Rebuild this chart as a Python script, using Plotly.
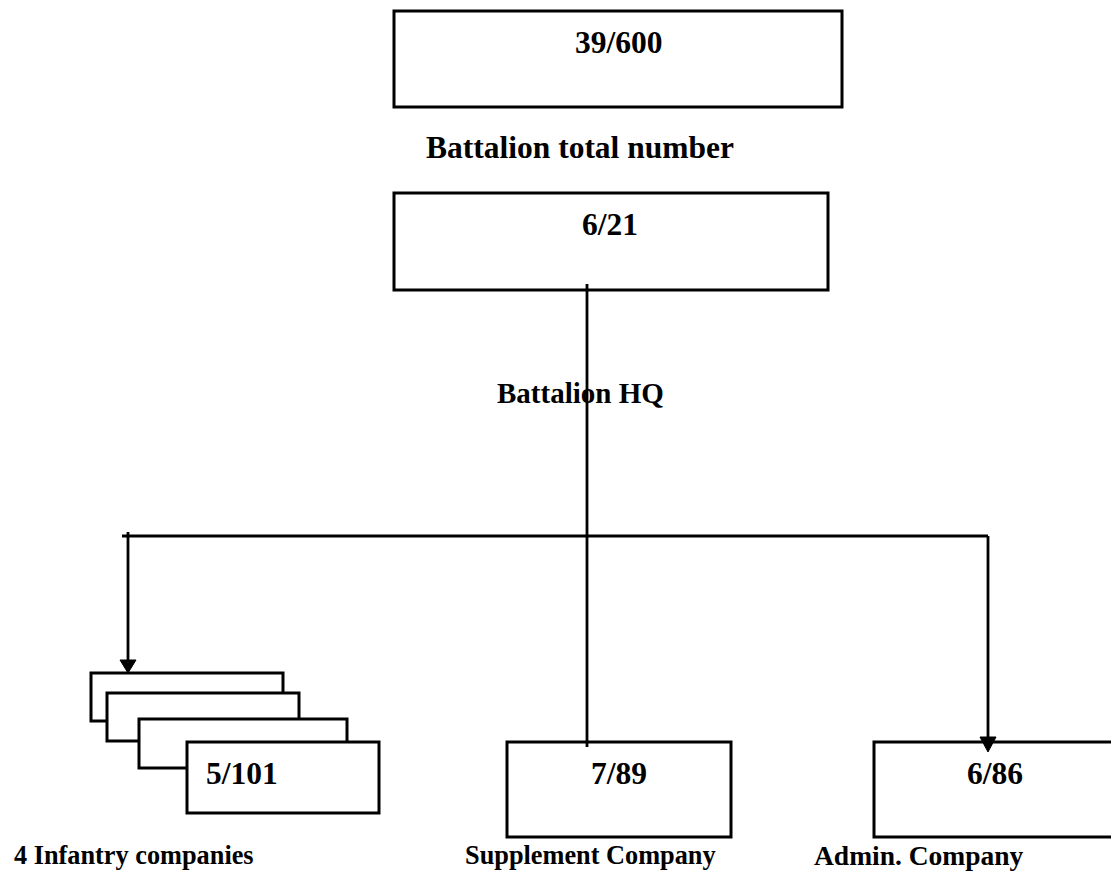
import plotly.graph_objects as go

# ---- content ----
box_labels = ["39/600", "6/21", "5/101", "7/89", "6/86"]
captions = ["Battalion total number", "Battalion HQ",
            "4 Infantry companies", "Supplement Company", "Admin. Company"]

# ---- layout geometry (pixels, y downwards) ----
W, H = 1111, 873
boxes = [  # x0, y0, x1, y1
    (394, 11, 842, 107),
    (394, 193, 828, 290),
    (187, 742, 379, 813),
    (507, 742, 731, 837),
    (874, 742, 1160, 837),   # runs off the right edge
]
box_text_pos = [(619, 42), (610, 224), (242, 773), (619, 773), (995, 773)]
stack_boxes = [(91, 673, 283, 721), (107, 693, 299, 741), (139, 719, 347, 768)]
caption_pos = [(580, 147, 31.5, "center"), (580, 393, 29, "center"),
               (12, 855, 26.3, "left"), (463, 855, 26.3, "left"), (812, 855, 27.5, "left")]

trunk_x, trunk_top, trunk_bot = 587, 284, 747
bus_y, bus_x0, bus_x1 = 536, 122, 988
left_arrow = (128, 532, 673)
right_arrow = (988, 536, 752)

FONT = "Liberation Serif, Times New Roman, serif"
LW_BOX = 3
LW_LINE = 2.8

fig = go.Figure()
shapes = []
for (x0, y0, x1, y1) in stack_boxes + [boxes[2]]:
    shapes.append(dict(type="rect", x0=x0, y0=y0, x1=x1, y1=y1, xref="x", yref="y",
                       line=dict(color="black", width=LW_BOX), fillcolor="white"))
for i in (0, 1, 3):
    x0, y0, x1, y1 = boxes[i]
    shapes.append(dict(type="rect", x0=x0, y0=y0, x1=x1, y1=y1, xref="x", yref="y",
                       line=dict(color="black", width=LW_BOX), fillcolor="rgba(0,0,0,0)"))
# open box at the right edge (its right side lies outside the picture)
x0, y0, x1, y1 = boxes[4]
shapes.append(dict(type="path", xref="x", yref="y",
                   path=f"M {x1},{y0} L {x0},{y0} L {x0},{y1} L {x1},{y1}",
                   line=dict(color="black", width=LW_BOX)))

def vline(x, y0, y1):
    return dict(type="line", x0=x, x1=x, y0=y0, y1=y1, xref="x", yref="y",
                line=dict(color="black", width=LW_LINE))

shapes.append(vline(trunk_x, trunk_top, trunk_bot))
shapes.append(dict(type="line", x0=bus_x0, x1=bus_x1, y0=bus_y, y1=bus_y, xref="x", yref="y",
                   line=dict(color="black", width=LW_LINE)))

def arrow(x, y0, tip, hw=8, hh=13):
    return [vline(x, y0, tip - hh + 1),
            dict(type="path", xref="x", yref="y",
                 path=f"M {x-hw},{tip-hh} L {x+hw},{tip-hh} L {x},{tip} Z",
                 fillcolor="black", line=dict(color="black", width=1))]

shapes += arrow(*left_arrow)
shapes += arrow(*right_arrow, hw=8, hh=15)

annotations = []
for lab, (x, y) in zip(box_labels, box_text_pos):
    annotations.append(dict(x=x, y=y, xref="x", yref="y", text=f"<b>{lab}</b>",
                            showarrow=False, xanchor="center", yanchor="middle",
                            font=dict(family=FONT, size=31.5, color="black")))
for cap, (x, y, fs, anc) in zip(captions, caption_pos):
    annotations.append(dict(x=x, y=y, xref="x", yref="y", text=f"<b>{cap}</b>",
                            showarrow=False, xanchor=anc, yanchor="middle",
                            font=dict(family=FONT, size=fs, color="black")))

fig.update_layout(
    width=W, height=H, margin=dict(l=0, r=0, t=0, b=0),
    paper_bgcolor="white", plot_bgcolor="white",
    xaxis=dict(range=[0, W], visible=False, fixedrange=True),
    yaxis=dict(range=[H, 0], visible=False, fixedrange=True),
    shapes=shapes, annotations=annotations, showlegend=False,
)
fig.write_html("out.html", config={"displayModeBar": False},
               post_script="document.body.style.margin='0';document.body.style.overflow='hidden';")
